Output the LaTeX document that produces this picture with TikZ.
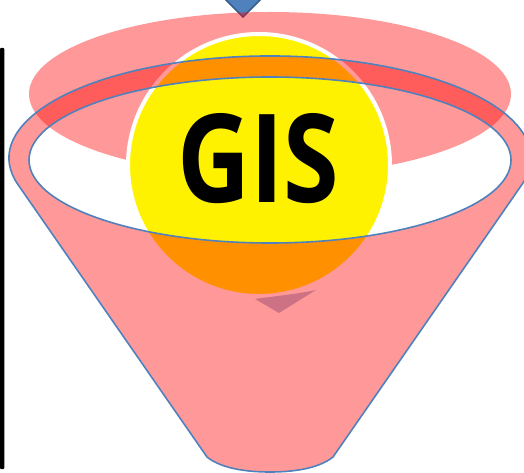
\documentclass[tikz,border=0pt]{standalone}
\usepackage{fontspec}
\newfontfamily\gisfont{Open Sans}
\definecolor{rimblue}{RGB}{79,129,189}
\definecolor{diamondedge}{RGB}{56,93,138}
\definecolor{shadowtri}{RGB}{205,114,132}
\tikzset{
  pinklayer/.style={fill=red, fill opacity=0.4},
  outline/.style={draw=rimblue, line width=1.6pt},
  ballstyle/.style={draw=white, line width=4pt, fill=yellow},
}
\begin{document}
\begin{tikzpicture}[x=1pt,y=-1pt]
\useasboundingbox (0,0) rectangle (524,473);
% black bar on the left
\fill[black, rounded corners=1pt] (0,48) rectangle (4.3,469);
% blue diamond tip at the top
\filldraw[fill=rimblue, draw=diamondedge, line width=1.5pt] (243,-19) -- (261,-1) -- (243,17) -- (225,-1) -- cycle;
% pink ellipse at the top
\path[pinklayer] (270,94) ellipse [x radius=241, y radius=82];
% yellow ball
\path[ballstyle] (259,165) circle [radius=131];
% funnel with its opening
\path[pinklayer, outline, even odd rule]
  (18,184.6) arc[start angle=164.88, end angle=375.12, x radius=261, y radius=102]
  -- (333,457) .. controls (318,469) and (292,472) .. (270,472)
  .. controls (248,472) and (222,469) .. (207,457) -- cycle
  (270,160) ellipse [x radius=241, y radius=83];
% shadow triangle
\fill[shadowtri] (255,299) .. controls (275,296) and (298,294) .. (316,290) -- (279,313) -- cycle;
% label
\node[inner sep=0pt] (gis) at (258.5,159) {\gisfont\bfseries\fontsize{123}{123}\selectfont\scalebox{0.82}[1]{GIS}};
\end{tikzpicture}
\end{document}
